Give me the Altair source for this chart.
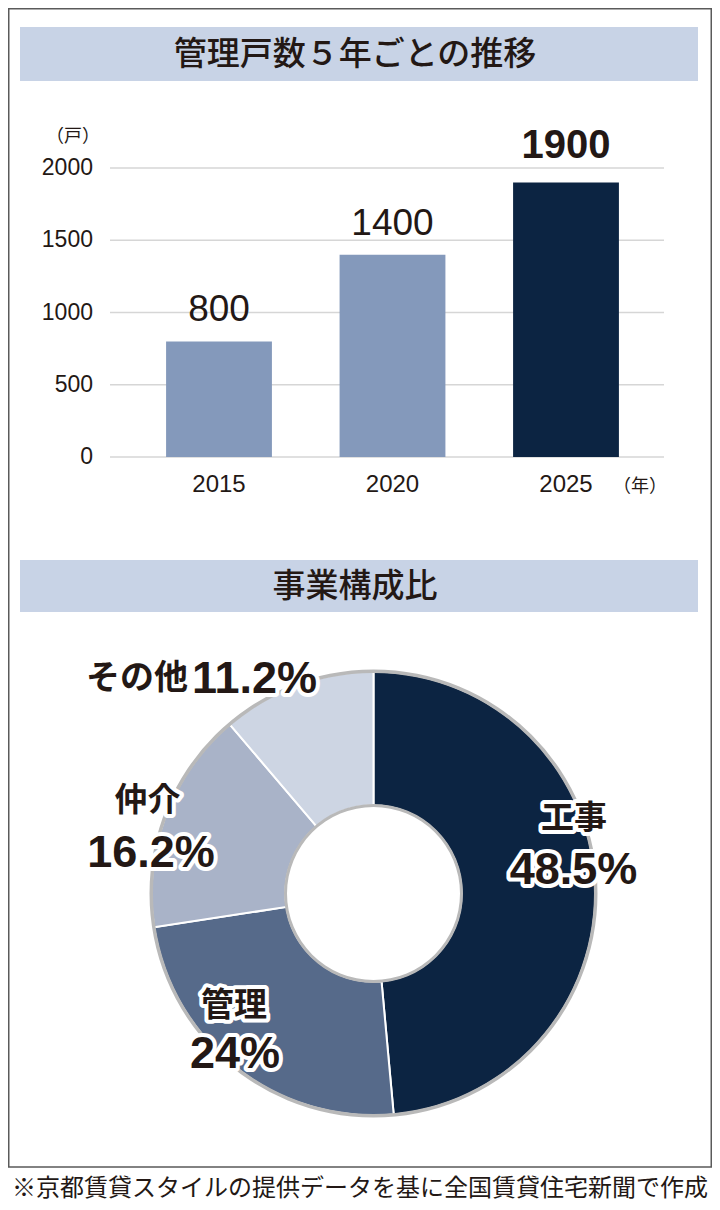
import altair as alt
import pandas as pd

# ---- data ----
years = ["2015", "2020", "2025"]
units = [800, 1400, 1900]
bar_kind = ["past", "past", "latest"]
y_ticks = [0, 500, 1000, 1500, 2000]

cats = ["工事", "管理", "仲介", "その他"]
shares = [48.5, 24, 16.2, 11.2]

title_bar = "管理戸数５年ごとの推移"
title_pie = "事業構成比"
unit_y = "（戸）"
unit_x = "（年）"
footnote = "※京都賃貸スタイルの提供データを基に全国賃貸住宅新聞で作成"

# ---- styles ----
JP = "Noto Sans CJK JP"
NUM = "'Liberation Sans', Roboto, sans-serif"
INK = "#231815"
BAND = "#c8d3e6"
LIGHT = "#8499bb"
NAVY = "#0c2442"
pie_colors = ["#0c2442", "#566a8a", "#a9b3c8", "#cdd5e3"]

bar_df = pd.DataFrame({"year": years, "units": units, "kind": bar_kind,
                       "label": [str(u) for u in units]})
tick_df = pd.DataFrame({"tick": y_ticks, "tlabel": [str(t) for t in y_ticks]})
pie_df = pd.DataFrame({"cat": cats, "share": shares, "ord": list(range(len(cats))),
                       "pct": [f"{s:g}%" for s in shares]})
one = pd.DataFrame({"k": [0]})

xs = alt.Scale(domain=years, range=[124.25, 644.75], paddingInner=0.39, paddingOuter=0.195)
ys = alt.Scale(domain=[0, 2000], range=[449, 160])
CX, CY = 365.5, 885.5

layers = []

# frame
layers.append(alt.Chart(one).mark_rect(filled=False, stroke="#5a5a5a", strokeWidth=1.5).encode(
    x=alt.value(0.75), x2=alt.value(703.25), y=alt.value(0.75), y2=alt.value(1159)))

# title bands
for y0, y1, txt in [(19, 73, title_bar), (552, 604, title_pie)]:
    layers.append(alt.Chart(one).mark_rect(color=BAND).encode(
        x=alt.value(12), x2=alt.value(690), y=alt.value(y0), y2=alt.value(y1)))
    layers.append(alt.Chart(one).mark_text(font=JP, fontSize=33, fontWeight=500, color=INK,
                                           align="center", baseline="middle").encode(
        x=alt.value(347), y=alt.value((y0 + y1) / 2 + 1), text=alt.value(txt)))

# gridlines
layers.append(alt.Chart(tick_df).mark_rule(color="#d6d6d6", strokeWidth=1.3).encode(
    y=alt.Y("tick:Q", scale=ys, axis=None), x=alt.value(102), x2=alt.value(656)))

# y tick labels
layers.append(alt.Chart(tick_df).mark_text(font=NUM, fontSize=23, color=INK,
                                           align="right", baseline="middle").encode(
    y=alt.Y("tick:Q", scale=ys, axis=None), x=alt.value(85), text="tlabel:N"))

# bars
layers.append(alt.Chart(bar_df).mark_bar().encode(
    x=alt.X("year:N", scale=xs, axis=None),
    y=alt.Y("units:Q", scale=ys, axis=None),
    color=alt.Color("kind:N", scale=alt.Scale(domain=["past", "latest"], range=[LIGHT, NAVY]),
                    legend=None)))

# value labels
layers.append(alt.Chart(bar_df).transform_filter(alt.datum.kind == "past").mark_text(
    font=NUM, fontSize=37, color=INK, align="center", baseline="middle", dy=-31).encode(
    x=alt.X("year:N", scale=xs, axis=None), y=alt.Y("units:Q", scale=ys, axis=None),
    text="label:N"))
layers.append(alt.Chart(bar_df).transform_filter(alt.datum.kind == "latest").mark_text(
    font=NUM, fontSize=40, fontWeight="bold", color=INK, align="center", baseline="middle",
    dy=-36).encode(
    x=alt.X("year:N", scale=xs, axis=None), y=alt.Y("units:Q", scale=ys, axis=None),
    text="label:N"))

# x labels
layers.append(alt.Chart(bar_df).mark_text(font=NUM, fontSize=24, color=INK,
                                          align="center", baseline="middle").encode(
    x=alt.X("year:N", scale=xs, axis=None), y=alt.value(477), text="year:N"))

# unit labels
layers.append(alt.Chart(one).mark_text(font=JP, fontSize=18, color=INK, align="center",
                                       baseline="middle").encode(
    x=alt.value(65), y=alt.value(129), text=alt.value(unit_y)))
layers.append(alt.Chart(one).mark_text(font=JP, fontSize=18, color=INK, align="center",
                                       baseline="middle").encode(
    x=alt.value(632), y=alt.value(479), text=alt.value(unit_x)))

# donut
layers.append(alt.Chart(pie_df).mark_arc(radius=222, radius2=88, stroke="white",
                                         strokeWidth=2).encode(
    theta=alt.Theta("share:Q", stack=True),
    order=alt.Order("ord:Q"),
    color=alt.Color("cat:N", scale=alt.Scale(domain=cats, range=pie_colors), legend=None),
    x=alt.value(CX), y=alt.value(CY)))
for r_out, r_in in [(224, 220.5), (89.5, 86.5)]:
    layers.append(alt.Chart(one).mark_arc(theta=0, theta2=6.2832, radius=r_out, radius2=r_in,
                                          color="#b9b9b9").encode(
        x=alt.value(CX), y=alt.value(CY)))


def ann(cat, field, x, y, size, font, align="center"):
    base = alt.Chart(pie_df).transform_filter(alt.datum.cat == cat)
    kw = dict(font=font, fontSize=size, fontWeight="bold", align=align, baseline="middle")
    halo = base.mark_text(color="white", stroke="white", strokeWidth=8, strokeJoin="round",
                          **kw).encode(x=alt.value(x), y=alt.value(y), text=f"{field}:N")
    txt = base.mark_text(color=INK, **kw).encode(x=alt.value(x), y=alt.value(y),
                                                 text=f"{field}:N")
    return [halo, txt]


layers += ann("その他", "cat", 180, 670.5, 34, JP, "right")
layers += ann("その他", "pct", 184, 671, 45, NUM, "left")
layers += ann("仲介", "cat", 139.5, 793, 33, JP)
layers += ann("仲介", "pct", 143, 844.5, 45, NUM)
layers += ann("工事", "cat", 566, 811, 33, JP)
layers += ann("工事", "pct", 565.5, 861.5, 45, NUM)
layers += ann("管理", "cat", 226, 998, 33, JP)
layers += ann("管理", "pct", 227, 1046, 45, NUM)

# footnote
layers.append(alt.Chart(one).mark_text(font=JP, fontSize=24, color=INK, align="center",
                                       baseline="middle").encode(
    x=alt.value(352), y=alt.value(1181), text=alt.value(footnote)))

chart = alt.layer(*layers).resolve_scale(color="independent").properties(
    width=704, height=1194, padding=0, autosize=alt.AutoSizeParams(type="none")
).configure_view(stroke=None)

chart.save("out.html", embed_options={"renderer": "svg", "actions": False})
